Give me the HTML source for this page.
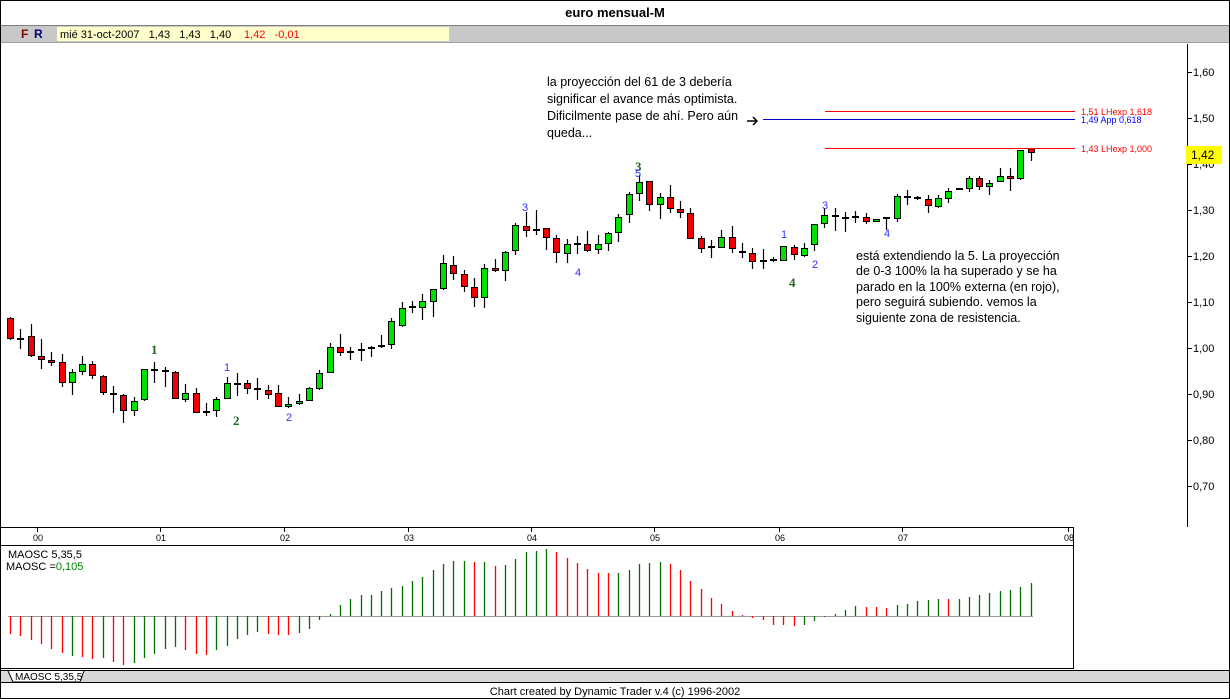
<!DOCTYPE html>
<html><head><meta charset="utf-8"><style>
html,body{margin:0;padding:0;background:#fff;}
svg{display:block;font-family:"Liberation Sans",sans-serif;}
</style></head><body>
<svg id="s" width="1230" height="699" viewBox="0 0 1230 699" xmlns="http://www.w3.org/2000/svg">
<rect x="0" y="0" width="1230" height="699" fill="#fff"/>
<rect x="0.5" y="0.5" width="1229" height="698" fill="none" stroke="#000"/>
<text x="615" y="17" text-anchor="middle" font-size="13" font-weight="bold">euro mensual-M</text>
<rect x="1" y="25" width="1228" height="17" fill="#c8c8c8"/>
<line x1="1" y1="25.5" x2="1229" y2="25.5" stroke="#808080"/>
<line x1="1" y1="42.5" x2="1229" y2="42.5" stroke="#a0a0a0"/>
<rect x="57" y="27" width="392" height="14" fill="#ffffcc"/>
<text x="21" y="38" font-size="12" font-weight="bold" fill="#800000">F</text>
<text x="34" y="38" font-size="12" font-weight="bold" fill="#000080">R</text>
<text x="60" y="38" font-size="11">mié 31-oct-2007 &#160; 1,43 &#160; 1,43 &#160; 1,40</text>
<text x="244" y="38" font-size="11" fill="#f00">1,42 &#160; -0,01</text>
<line x1="1187.5" y1="44" x2="1187.5" y2="527" stroke="#000"/>
<g font-size="11" id="pax"></g>
<g id="ybox"></g>
<line x1="0" y1="527.5" x2="1074" y2="527.5" stroke="#000"/>
<line x1="0" y1="545.5" x2="1074" y2="545.5" stroke="#000"/>
<line x1="1073.5" y1="527" x2="1073.5" y2="668" stroke="#000"/>
<g id="dax" font-size="9"></g>
<line x1="0" y1="668.5" x2="1074" y2="668.5" stroke="#000"/>
<rect x="1" y="670" width="1228" height="12" fill="#d8d8d8"/>
<line x1="0" y1="670.5" x2="1230" y2="670.5" stroke="#000"/>
<path d="M8 671 L13 682 L80 682 L84 671" fill="#fff" stroke="#000"/>
<text x="15" y="680" font-size="10">MAOSC 5,35,5</text>
<line x1="0" y1="682.5" x2="1230" y2="682.5" stroke="#000"/>
<text x="615" y="695" text-anchor="middle" font-size="11">Chart created by Dynamic Trader v.4  (c) 1996-2002</text>
<text x="8" y="558" font-size="11">MAOSC 5,35,5</text>
<text x="6" y="570" font-size="11">MAOSC =<tspan fill="#008000">0,105</tspan></text>
<line x1="8" y1="616.5" x2="1033" y2="616.5" stroke="#999"/>
<g id="osc"></g>
<g id="cand"></g>
<line x1="825" y1="111.5" x2="1075" y2="111.5" stroke="#f00"/>
<line x1="763" y1="119.5" x2="1075" y2="119.5" stroke="#00c"/>
<line x1="825" y1="148.5" x2="1075" y2="148.5" stroke="#f00"/>
<text x="1081" y="115" font-size="9" fill="#f00">1,51 LHexp 1,618</text>
<text x="1081" y="123" font-size="9" fill="#00f">1,49 App 0,618</text>
<text x="1081" y="152" font-size="9" fill="#f00">1,43 LHexp 1,000</text>
<path d="M747 121 L757 121 M753 117 L757 121 L753 125" stroke="#000" stroke-width="1.5" fill="none"/>
<g font-size="12.5">
<text x="547" y="86">la proyección del 61 de 3 debería</text>
<text x="547" y="103">significar el avance más optimista.</text>
<text x="547" y="120">Dificilmente pase de ahí. Pero aún</text>
<text x="547" y="137">queda...</text>
<text x="856" y="260">está extendiendo la 5. La proyección</text>
<text x="856" y="275">de 0-3 100% la ha superado y se ha</text>
<text x="856" y="291">parado en la 100% externa (en rojo),</text>
<text x="856" y="306">pero seguirá subiendo. vemos la</text>
<text x="856" y="322">siguiente zona de resistencia.</text>
</g>
<g font-size="13" font-weight="bold" fill="#226622" font-family="Liberation Serif,serif">
<text x="151" y="354">1</text><text x="233" y="425">2</text><text x="635" y="171">3</text><text x="789" y="287">4</text>
</g>
<g font-size="11" fill="#3030ff">
<text x="224" y="371">1</text><text x="286" y="421">2</text><text x="522" y="211">3</text><text x="575" y="276">4</text><text x="635" y="177">5</text>
<text x="781" y="238">1</text><text x="812" y="268">2</text><text x="822" y="209">3</text><text x="884" y="237">4</text>
</g>
</svg>
<script>
var NS="http://www.w3.org/2000/svg";
function el(p,t,a,txt){var e=document.createElementNS(NS,t);for(var k in a)e.setAttribute(k,a[k]);if(txt)e.textContent=txt;document.getElementById(p).appendChild(e);}
var labs=["1,60","1,50","1,40","1,30","1,20","1,10","1,00","0,90","0,80","0,70"];
labs.forEach(function(l,i){var y=72+i*46;el("pax","line",{x1:1187,y1:y+.5,x2:1192,y2:y+.5,stroke:"#000"});el("pax","text",{x:1193,y:y+4},l);});
el("ybox","rect",{x:1186,y:146,width:36,height:18,fill:"#ffff00"});
el("ybox","text",{x:1191,y:159,"font-size":12},"1,42");
var yrs=[["00",37],["01",160],["02",284],["03",408],["04",531],["05",654],["06",779],["07",902],["08",1068]];
yrs.forEach(function(a){el("dax","line",{x1:a[1]+.5,y1:527,x2:a[1]+.5,y2:532,stroke:"#000"});el("dax","text",{x:a[1]-4,y:541},a[0]);});
var C=[[318,338,317,340],[339,339,329,349],[336,355,324,357],[356,359,339,369],[360,362,352,366],[362,382,354,387],[382,372,369,395],[371,364,356,375],[364,375,361,379],[376,392,375,395],
[394,394,386,413],[395,410,394,423],[410,401,397,416],[399,369,369,401],[370,370,362,383],[371,371,367,387],[372,398,371,399],[399,393,384,402],[393,412,388,413],[412,412,403,416],
[410,399,397,417],[398,383,377,399],[384,384,373,396],[383,388,380,394],[389,389,378,400],[390,394,385,399],[393,406,385,407],[406,404,397,408],[403,401,394,405],[400,388,387,401],
[388,373,370,390],[372,347,343,373],[347,352,334,356],[352,352,347,360],[350,350,343,361],[348,348,346,357],[346,346,335,348],[344,321,318,349],[325,308,302,327],[307,307,301,313],
[307,301,294,320],[301,289,289,317],[288,263,255,290],[265,273,256,280],[274,286,270,292],[287,297,278,307],[297,268,264,308],[268,270,259,272],[270,252,251,281],[250,225,223,255],
[226,230,212,237],[230,230,210,235],[228,237,228,250],[238,252,235,263],[253,244,239,263],[244,244,236,254],[244,250,231,252],[249,244,235,254],[243,233,232,251],[232,217,214,242],
[214,194,192,223],[193,182,175,201],[181,204,181,211],[204,197,193,219],[197,208,185,213],[209,212,201,218],[213,238,208,239],[238,248,236,253],[247,247,240,258],[247,237,230,247],
[237,248,226,253],[252,252,243,258],[253,261,248,269],[261,261,249,269],[260,260,257,262],[260,246,246,260],[247,254,245,260],[255,248,243,257],[244,224,224,251],[223,215,208,228],
[216,216,208,231],[218,218,212,232],[217,217,211,223],[217,221,213,224],[221,219,219,222],[218,218,217,230],[218,196,194,222],[197,197,190,205],[198,198,196,200],[199,205,195,213],
[206,198,195,208],[198,191,188,203],[189,189,188,190],[188,178,176,192],[178,186,176,190],[186,183,180,195],[181,176,168,182],[176,178,168,191],[178,150,150,180],[148,152,148,161]];
C.forEach(function(c,i){var x=Math.round(10+i*10.31);var o=c[0],cl=c[1],h=c[2],l=c[3];
el("cand","line",{x1:x+.5,y1:h,x2:x+.5,y2:l,stroke:"#000","stroke-width":1.2});
if(Math.abs(o-cl)<2){el("cand","rect",{x:x-3,y:o-1,width:7,height:2,fill:"#000"});}
else{var t=Math.min(o,cl),b=Math.max(o,cl);el("cand","rect",{x:x-3+.5,y:t+.5,width:6,height:b-t,fill:cl<o?"#00e000":"#f00000",stroke:"#000","stroke-width":1});}});
var O=[[634,'r'],[636,'r'],[640,'r'],[644,'r'],[649,'r'],[653,'r'],[656,'g'],[657,'r'],[659,'r'],[658,'g'],[662,'r'],[665,'r'],[663,'g'],[658,'g'],[654,'g'],[649,'g'],[647,'g'],[650,'r'],[654,'r'],[655,'r'],
[650,'g'],[646,'g'],[639,'g'],[635,'g'],[632,'g'],[634,'r'],[635,'r'],[635,'r'],[633,'g'],[629,'g'],[620,'g'],[614,'g'],[605,'g'],[599,'g'],[595,'g'],[595,'g'],[591,'g'],[588,'g'],[586,'g'],[581,'g'],
[577,'g'],[570,'g'],[564,'g'],[561,'g'],[561,'g'],[562,'r'],[562,'g'],[566,'r'],[565,'g'],[559,'g'],[552,'g'],[551,'g'],[549,'g'],[552,'r'],[558,'r'],[563,'r'],[569,'r'],[573,'r'],[573,'r'],[573,'g'],
[570,'g'],[564,'g'],[563,'g'],[562,'g'],[564,'r'],[570,'r'],[581,'r'],[589,'r'],[598,'r'],[604,'r'],[611,'r'],[615,'r'],[618,'r'],[620,'r'],[625,'r'],[625,'r'],[626,'r'],[625,'g'],[621,'g'],[617,'g'],
[614,'g'],[610,'g'],[606,'g'],[607,'r'],[607,'r'],[608,'r'],[605,'g'],[604,'g'],[601,'g'],[600,'g'],[599,'g'],[599,'r'],[599,'g'],[597,'g'],[595,'g'],[593,'g'],[591,'g'],[590,'g'],[587,'g'],[583,'g']];
O.forEach(function(o,i){var x=Math.round(10+i*10.31)+.5;el("osc","line",{x1:x,y1:616,x2:x,y2:o[0],stroke:o[1]=='r'?"#f00":"#007000","stroke-width":1.3});});
</script>
</body></html>
